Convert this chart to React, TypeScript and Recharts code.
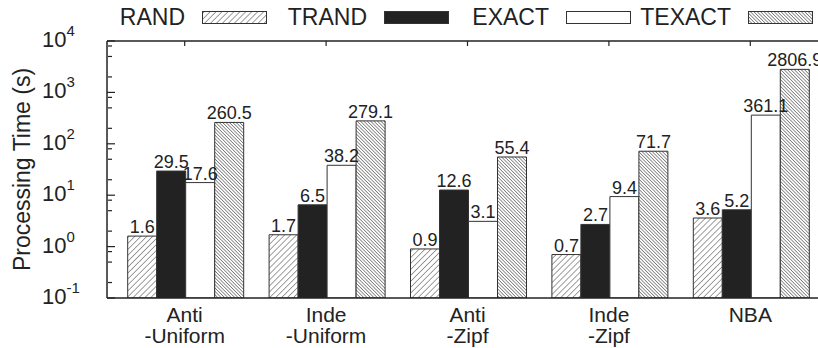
import React from 'react';
import { BarChart, Bar, XAxis, YAxis, Legend, LabelList } from 'recharts';

const categories = ['Anti-Uniform', 'Inde-Uniform', 'Anti-Zipf', 'Inde-Zipf', 'NBA'];
const randTimes = [1.6, 1.7, 0.9, 0.7, 3.6];
const trandTimes = [29.5, 6.5, 12.6, 2.7, 5.2];
const exactTimes = [17.6, 38.2, 3.1, 9.4, 361.1];
const texactTimes = [260.5, 279.1, 55.4, 71.7, 2806.9];

const majorTicks = [0.1, 1, 10, 100, 1000, 10000];
const minorTicks = [0.2, 0.5, 0.8, 2, 5, 8, 20, 50, 80, 200, 500, 800, 2000, 5000, 8000];

const FONT = 'Arial, "Liberation Sans", Helvetica, sans-serif';
const INK = '#222';

const data = categories.map((name, i) => ({
  name,
  RAND: randTimes[i],
  TRAND: trandTimes[i],
  EXACT: exactTimes[i],
  TEXACT: texactTimes[i],
}));

// gnuplot-ish fill styles: two hatches, solid black, empty
const hatchDefs = (prefix: string) => (
  <defs>
    <pattern id={`${prefix}-rand`} patternUnits="userSpaceOnUse" width={4.2} height={4.2} patternTransform="rotate(45)">
      <rect width={4.2} height={4.2} fill="#fff" />
      <line x1={2.1} y1={0} x2={2.1} y2={4.2} stroke="#888" strokeWidth={0.8} />
    </pattern>
    <pattern id={`${prefix}-texact`} patternUnits="userSpaceOnUse" width={2.4} height={2.4} patternTransform="rotate(-45)">
      <rect width={2.4} height={2.4} fill="#fff" />
      <line x1={1.2} y1={0} x2={1.2} y2={2.4} stroke="#666" strokeWidth={0.7} />
    </pattern>
  </defs>
);

const series = [
  { key: 'RAND', fill: (p: string) => `url(#${p}-rand)` },
  { key: 'TRAND', fill: () => INK },
  { key: 'EXACT', fill: () => '#fff' },
  { key: 'TEXACT', fill: (p: string) => `url(#${p}-texact)` },
];

function KeyLegend() {
  return (
    <div
      style={{
        display: 'flex',
        alignItems: 'center',
        height: 34,
        paddingLeft: 85,
        fontFamily: FONT,
        fontSize: 23,
        color: INK,
      }}
    >
      {series.map((s) => (
        <div key={s.key} style={{ width: 182, display: 'flex', justifyContent: 'flex-end', alignItems: 'center' }}>
          <span>{s.key}</span>
          <svg width={65} height={13} style={{ marginLeft: 17, display: 'block' }}>
            {hatchDefs('key')}
            <rect x={0.5} y={0.5} width={64} height={12} fill={s.fill('key')} stroke="#333" strokeWidth={1} />
          </svg>
        </div>
      ))}
    </div>
  );
}

function PowerTick({ x, y, payload }: any) {
  const exp = Math.round(Math.log10(payload.value));
  return (
    <text x={x - 65} y={y + 6} fontSize={22} fill={INK} fontFamily={FONT}>
      10
      <tspan dy={-11} fontSize={15}>
        {exp}
      </tspan>
    </text>
  );
}

function CategoryTick({ x, y, payload }: any) {
  const name: string = payload.value;
  const cut = name.indexOf('-');
  const lines = cut > 0 ? [name.slice(0, cut), name.slice(cut)] : [name];
  return (
    <text x={x} y={y} textAnchor="middle" fontSize={21} fill={INK} fontFamily={FONT}>
      {lines.map((l, i) => (
        <tspan key={i} x={x} dy={i === 0 ? 24 : 21}>
          {l}
        </tspan>
      ))}
    </text>
  );
}

const noLabel = () => <g />;
const axisStroke = { stroke: '#222', strokeWidth: 1.5 };
const xPad = { left: 7, right: 6 };

export default function App() {
  return (
    <div style={{ position: 'absolute', left: 0, top: 0, width: 818, height: 348, overflow: 'hidden', background: '#fff' }}>
      <BarChart
        width={830}
        height={348}
        data={data}
        margin={{ top: 7, right: 3, bottom: 0, left: 0 }}
        barCategoryGap={13.7}
        barGap={0}
      >
        {hatchDefs('bar')}
        <Legend verticalAlign="top" wrapperStyle={{ top: 0, left: 0, width: 830 }} content={() => <KeyLegend />} />

        <XAxis
          xAxisId="bottom"
          dataKey="name"
          height={50}
          padding={xPad}
          interval={0}
          tickLine={false}
          tickSize={0}
          tickMargin={0}
          axisLine={axisStroke}
          tick={CategoryTick}
        />
        <XAxis
          xAxisId="top"
          orientation="top"
          mirror
          dataKey="name"
          height={1}
          padding={xPad}
          interval={0}
          tickSize={5}
          tickLine={{ stroke: '#222', strokeWidth: 1.2 }}
          axisLine={axisStroke}
          tick={noLabel}
        />

        <YAxis
          yAxisId="y"
          type="number"
          scale="log"
          domain={[0.1, 10000]}
          allowDataOverflow
          ticks={majorTicks}
          interval={0}
          width={107}
          tickLine={false}
          tickSize={0}
          tickMargin={0}
          axisLine={axisStroke}
          tick={PowerTick}
          label={{
            value: 'Processing Time (s)',
            angle: -90,
            position: 'insideLeft',
            offset: 22,
            style: { textAnchor: 'middle', fontSize: 23, fill: INK, fontFamily: FONT },
          }}
        />
        <YAxis
          yAxisId="major"
          type="number"
          scale="log"
          domain={[0.1, 10000]}
          allowDataOverflow
          ticks={majorTicks}
          interval={0}
          mirror
          width={1}
          axisLine={false}
          tickSize={8}
          tickLine={{ stroke: '#222', strokeWidth: 1.2 }}
          tick={noLabel}
        />
        <YAxis
          yAxisId="minor"
          type="number"
          scale="log"
          domain={[0.1, 10000]}
          allowDataOverflow
          ticks={minorTicks}
          interval={0}
          mirror
          width={1}
          axisLine={false}
          tickSize={4}
          tickLine={{ stroke: '#222', strokeWidth: 1.2 }}
          tick={noLabel}
        />

        {series.map((s) => (
          <Bar
            key={s.key}
            dataKey={s.key}
            xAxisId="bottom"
            yAxisId="y"
            fill={s.fill('bar')}
            stroke="#333"
            strokeWidth={1}
            isAnimationActive={false}
          >
            <LabelList
              dataKey={s.key}
              position="top"
              offset={3}
              fontSize={18}
              fill={INK}
              fontFamily={FONT}
              formatter={(v: any) => Number(v).toFixed(1)}
            />
          </Bar>
        ))}
      </BarChart>
    </div>
  );
}
